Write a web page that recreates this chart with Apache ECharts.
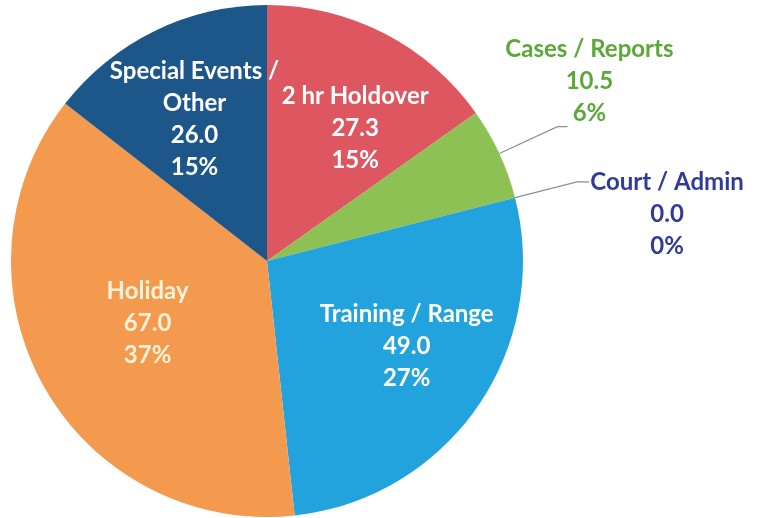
<!DOCTYPE html>
<html>
<head>
<meta charset="utf-8">
<script src="https://cdn.jsdelivr.net/npm/echarts@6/dist/echarts.min.js"></script>
<style>
html, body { margin: 0; padding: 0; background: #fff; }
#chart { width: 757px; height: 518px; }
</style>
</head>
<body>
<div id="chart"></div>
<script>
// 各类别（顺时针，从正上方开始）
var categories = ['2 hr Holdover', 'Cases / Reports', 'Court / Admin', 'Training / Range', 'Holiday', 'Special Events /\nOther'];
// 小时数
var hours = [27.3, 10.5, 0.0, 49.0, 67.0, 26.0];
// 图上标注的百分比
var percents = ['15%', '6%', '0%', '27%', '37%', '15%'];

var COLORS = ['#de5660', '#8dc153', '#2e3f9c', '#22a3dd', '#f49a4f', '#1d578a'];   // 扇区颜色
var TEXT_COLORS = ['#ffffff', '#5ba83a', '#2f3b98', '#ffffff', '#fff2d8', '#ffffff'];  // 标签文字颜色

// 内部标签相对默认位置的偏移
var INNER_SHIFT = { 0: [28, -16], 3: [32, 11], 4: [-5, -2], 5: [-15, -24] };

// 每个标签一个 rich 样式，只是颜色不同
var rich = {};
TEXT_COLORS.forEach(function (c, i) {
    rich['c' + i] = {
        color: c,
        fontFamily: 'Lato',
        fontWeight: 'bold',
        fontSize: 24,
        lineHeight: 32,
        align: 'center'
    };
});

var pieData = categories.map(function (name, i) {
    var item = { name: name, value: hours[i], itemStyle: { color: COLORS[i] } };
    if (i === 1) {          // Cases / Reports，标签在外面、线的上方
        item.label = { position: 'outside', width: 44, padding: [0, 0, 90, 0], distanceToLabelLine: 0, overflow: 'none' };
        item.labelLine = { show: true, length: 64, length2: 10 };
    } else if (i === 2) {   // Court / Admin，标签在外面、线的下方
        item.label = { position: 'outside', width: 156, padding: [64, 0, 0, 0], distanceToLabelLine: 0, overflow: 'none' };
        item.labelLine = { show: true, length: 64, length2: 12 };
    } else {
        item.label = { position: 'inside' };
        item.labelLine = { show: false };
    }
    return item;
});

var chart = echarts.init(document.getElementById('chart'), null, { renderer: 'canvas' });

chart.setOption({
    backgroundColor: '#ffffff',
    animation: false,
    series: [{
        type: 'pie',
        center: [267, 261],
        radius: 256,
        startAngle: 90,
        clockwise: true,
        avoidLabelOverlap: false,
        minShowLabelAngle: 0,
        itemStyle: { borderWidth: 0 },
        emphasis: { disabled: true },
        label: {
            show: true,
            formatter: function (p) {
                var lines = p.name.split('\n').concat([p.value.toFixed(1), percents[p.dataIndex]]);
                return lines.map(function (l) { return '{c' + p.dataIndex + '|' + l + '}'; }).join('\n');
            },
            rich: rich
        },
        labelLine: {
            lineStyle: { color: '#8e8e8e', width: 1.2 }
        },
        labelLayout: function (params) {
            var s = INNER_SHIFT[params.dataIndex];
            if (!s) return {};
            return { dx: s[0], dy: s[1] };
        },
        data: pieData
    }]
});
</script>
</body>
</html>
